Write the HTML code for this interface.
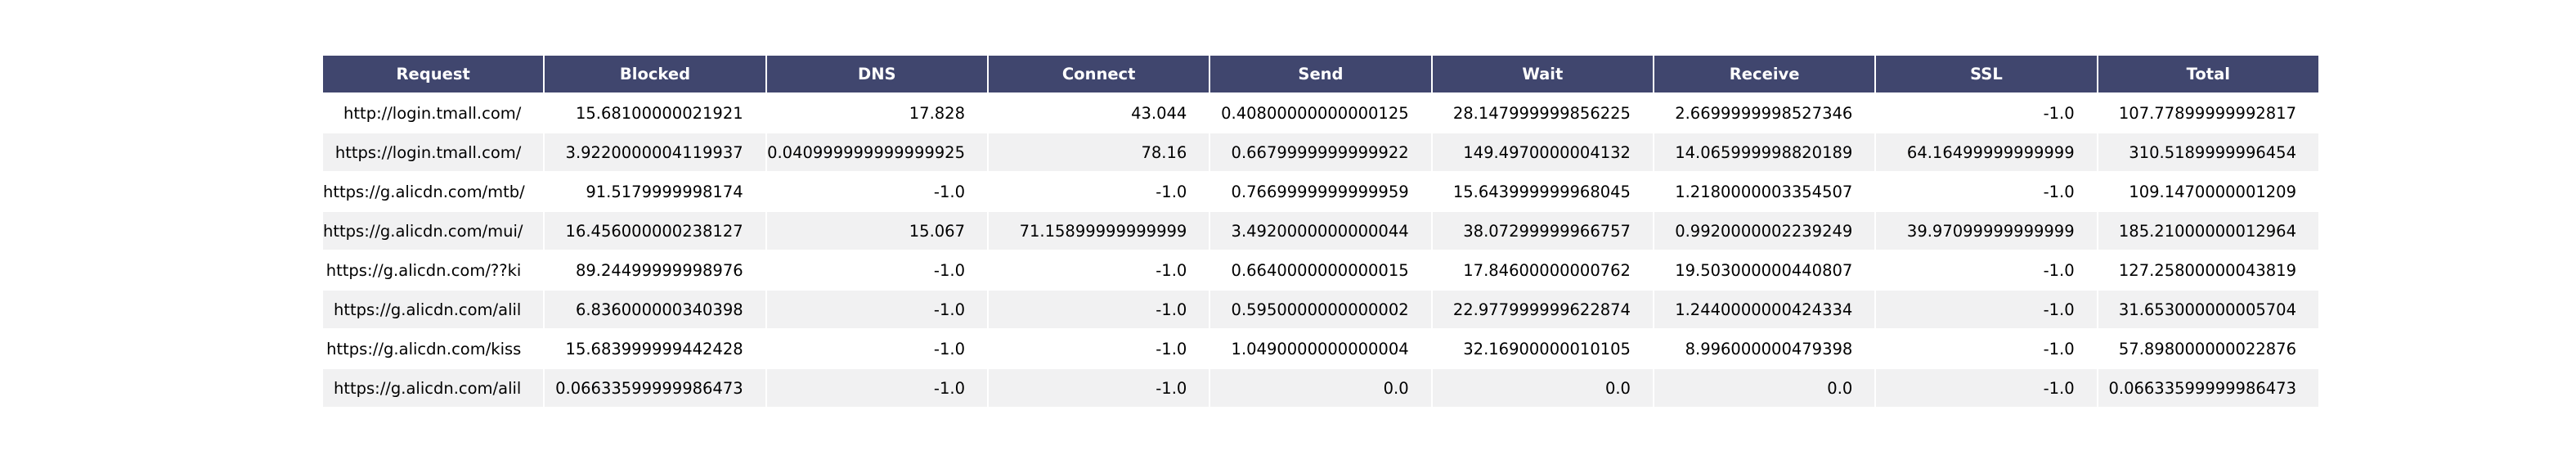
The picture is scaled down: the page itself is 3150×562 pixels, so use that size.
<!DOCTYPE html>
<html><head><meta charset="utf-8">
<style>
html,body{margin:0;padding:0;background:#fff;width:3150px;height:562px;overflow:hidden;}
table{position:absolute;left:393px;top:66px;width:2444px;border-collapse:collapse;table-layout:fixed;font-family:"DejaVu Sans","Liberation Sans",sans-serif;font-size:19.5px;color:#000;}
td,th{padding:0 27px 0 0;border:2px solid #fff;text-align:right;white-space:nowrap;overflow:visible;}
th{background:#40466e;color:#fff;font-weight:bold;text-align:center;padding:0;height:45px;}
td{height:46px;}
tr.alt td{background:#f1f1f2;}
</style></head><body>
<table>
<thead><tr id="hdr"></tr></thead>
<tbody id="body"></tbody>
</table>
<script>
const columns = ["Request","Blocked","DNS","Connect","Send","Wait","Receive","SSL","Total"];
const requests = ["http://login.tmall.com/","https://login.tmall.com/","https://g.alicdn.com/mtb/","https://g.alicdn.com/mui/","https://g.alicdn.com/??ki","https://g.alicdn.com/alil","https://g.alicdn.com/kiss","https://g.alicdn.com/alil"];
const blocked = ["15.68100000021921","3.9220000004119937","91.5179999998174","16.456000000238127","89.24499999998976","6.836000000340398","15.683999999442428","0.06633599999986473"];
const dns = ["17.828","0.040999999999999925","-1.0","15.067","-1.0","-1.0","-1.0","-1.0"];
const connect = ["43.044","78.16","-1.0","71.15899999999999","-1.0","-1.0","-1.0","-1.0"];
const send = ["0.40800000000000125","0.6679999999999922","0.7669999999999959","3.4920000000000044","0.6640000000000015","0.5950000000000002","1.0490000000000004","0.0"];
const wait = ["28.147999999856225","149.4970000004132","15.643999999968045","38.07299999966757","17.84600000000762","22.977999999622874","32.16900000010105","0.0"];
const receive = ["2.6699999998527346","14.065999998820189","1.2180000003354507","0.9920000002239249","19.503000000440807","1.2440000000424334","8.996000000479398","0.0"];
const ssl = ["-1.0","64.16499999999999","-1.0","39.97099999999999","-1.0","-1.0","-1.0","-1.0"];
const total = ["107.77899999992817","310.5189999996454","109.1470000001209","185.21000000012964","127.25800000043819","31.653000000005704","57.898000000022876","0.06633599999986473"];

const hdr = document.getElementById('hdr');
columns.forEach(c => {
  const th = document.createElement('th');
  th.textContent = c;
  
  
  hdr.appendChild(th);
});
const series = [requests, blocked, dns, connect, send, wait, receive, ssl, total];
const body = document.getElementById('body');
requests.forEach((r, i) => {
  const tr = document.createElement('tr');
  
  
  if (i % 2 === 1) tr.className = 'alt';
  series.forEach((s, j) => {
    const td = document.createElement('td');
    td.textContent = s[i];
    
    
    tr.appendChild(td);
  });
  body.appendChild(tr);
});
</script>
</body></html>
